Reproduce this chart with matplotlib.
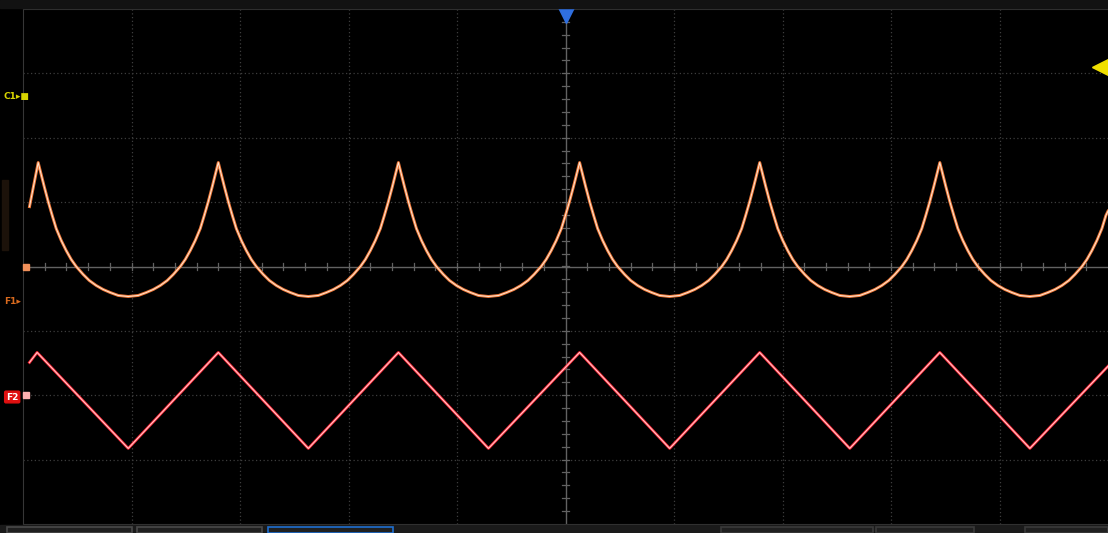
import numpy as np
import matplotlib
matplotlib.use("Agg")
import matplotlib.pyplot as plt
from matplotlib.patches import Rectangle

# screen in divisions: 10 horizontal, 8 vertical (+-4)
peak_t = [0.14, 1.80, 3.46, 5.13, 6.79, 8.45]
trough_t = [0.97, 2.63, 4.29, 5.96, 7.62, 9.28]

# C1: falling half of one cusp, read from the first period (peak -> trough)
c1_fall_frac = [0.0, 0.033, 0.067, 0.111, 0.156, 0.2, 0.256, 0.311, 0.367, 0.422,
                0.5, 0.567, 0.644, 0.722, 0.8, 0.889, 1.0]
c1_fall_v = [1.615, 1.429, 1.242, 1.009, 0.792, 0.590, 0.404, 0.248, 0.109, 0.0,
             -0.124, -0.217, -0.295, -0.357, -0.404, -0.450, -0.466]
c1_start = (0.06, 0.93)
c1_end = (10.0, 0.86)

# F2: triangle vertices
f2_t = [0.06, 0.13, 0.97, 1.80, 2.63, 3.46, 4.29, 5.13, 5.96, 6.79, 7.62, 8.45, 9.28, 10.0]
f2_v = [-1.49, -1.335, -2.826, -1.335, -2.826, -1.335, -2.826, -1.335, -2.826,
        -1.335, -2.826, -1.335, -2.826, -1.55]

# build C1 trace from the read shape
frac = np.array(c1_fall_frac)
shape = np.array(c1_fall_v)
t_all, v_all = [c1_start[0]], [c1_start[1]]
peaks = peak_t + [trough_t[-1] + (trough_t[-1] - peak_t[-1])]
for i, tr in enumerate(trough_t):
    p = peaks[i]
    t_all += list(p + frac * (tr - p))
    v_all += list(shape)
    p2 = peaks[i + 1]
    t_all += list((p2 - frac * (p2 - tr))[::-1][1:])
    v_all += list(shape[::-1][1:])
t_all = np.array(t_all)
v_all = np.array(v_all)
keep = t_all < c1_end[0]
c1_t = np.append(t_all[keep], c1_end[0])
c1_v = np.append(v_all[keep], c1_end[1])

W, H = 1108, 533
fig = plt.figure(figsize=(W / 100, H / 100), dpi=100, facecolor="black")

# top and bottom strips
fig.patches.append(Rectangle((0, 1 - 8 / H), 1, 8 / H, transform=fig.transFigure,
                             color="#121212", zorder=0))
fig.patches.append(Rectangle((0, 0), 1, 8 / H, transform=fig.transFigure,
                             color="#1a1a1a", zorder=0))
for x0, x1, ec in [(7, 132, "#4a4a4a"), (137, 262, "#4a4a4a"), (268, 393, "#1e6fd0"),
                   (721, 873, "#3a3a3a"), (876, 974, "#3a3a3a"), (1025, 1108, "#3a3a3a")]:
    fig.patches.append(Rectangle((x0 / W, 0), (x1 - x0) / W, 6 / H, transform=fig.transFigure,
                                 facecolor="#202020", edgecolor=ec, lw=1.2, zorder=1))

ax = fig.add_axes([23 / W, 9 / H, 1085 / W, 515 / H])
ax.set_facecolor("black")
ax.set_xlim(0, 10)
ax.set_ylim(-4, 4)
ax.set_xticks([])
ax.set_yticks([])
ax.spines["right"].set_visible(False)
for side in ["left", "top", "bottom"]:
    ax.spines[side].set_color("#363636")

grid_kw = dict(color="#3d3d3d", lw=0.9, ls=(0, (1, 2)), zorder=1)
for gx in range(1, 10):
    if gx != 5:
        ax.axvline(gx, **grid_kw)
for gy in range(-3, 4):
    if gy != 0:
        ax.axhline(gy, **grid_kw)

# centre crosshair with minor ticks
ax.axhline(0, color="#626262", lw=1.0, zorder=1)
ax.axvline(5, color="#626262", lw=1.0, zorder=1)
for mx in np.arange(0.2, 10, 0.2):
    ax.plot([mx, mx], [-0.05, 0.05], color="#626262", lw=0.9, zorder=1)
for my in np.arange(-3.8, 4, 0.2):
    ax.plot([4.97, 5.03], [my, my], color="#626262", lw=0.9, zorder=1)

# traces
ax.plot(c1_t, c1_v, color="#f07a3a", lw=2.1, zorder=3)
ax.plot(c1_t, c1_v, color="#ffe8d6", lw=0.7, zorder=4)
ax.plot(f2_t, f2_v, color="#ff2a3a", lw=2.0, zorder=3)
ax.plot(f2_t, f2_v, color="#ffd6d6", lw=0.7, zorder=4)

# trigger / level markers
ax.plot([5], [3.93], marker="v", ms=13, color="#2f6fe0", clip_on=False, zorder=6)
ax.plot([9.93], [3.10], marker="<", ms=11, color="#f0e000", clip_on=False, zorder=6)
ax.plot([0.03], [0.0], marker="s", ms=4, color="#f0905a", clip_on=False, zorder=6)
ax.plot([0.03], [-2.0], marker="s", ms=4, color="#ffb0b0", clip_on=False, zorder=6)

# channel labels on the left
fig.text(4 / W, 1 - 97 / H, "C1\u25b8\u25a0", color="#d8d400", fontsize=6.5,
         fontweight="bold", va="center", family="DejaVu Sans")
fig.text(4 / W, 1 - 302 / H, "F1\u25b8", color="#d96a1e", fontsize=6.5,
         fontweight="bold", va="center", family="DejaVu Sans")
fig.text(6 / W, 1 - 397 / H, "F2", color="white", fontsize=6.5, fontweight="bold",
         va="center", family="DejaVu Sans",
         bbox=dict(boxstyle="round,pad=0.15", fc="#e01010", ec="#e01010"))
fig.patches.append(Rectangle((2 / W, 1 - 250 / H), 6 / W, 70 / H, transform=fig.transFigure,
                             color="#1c120a", zorder=0))

fig.savefig("out.png", dpi=100, facecolor="black")
